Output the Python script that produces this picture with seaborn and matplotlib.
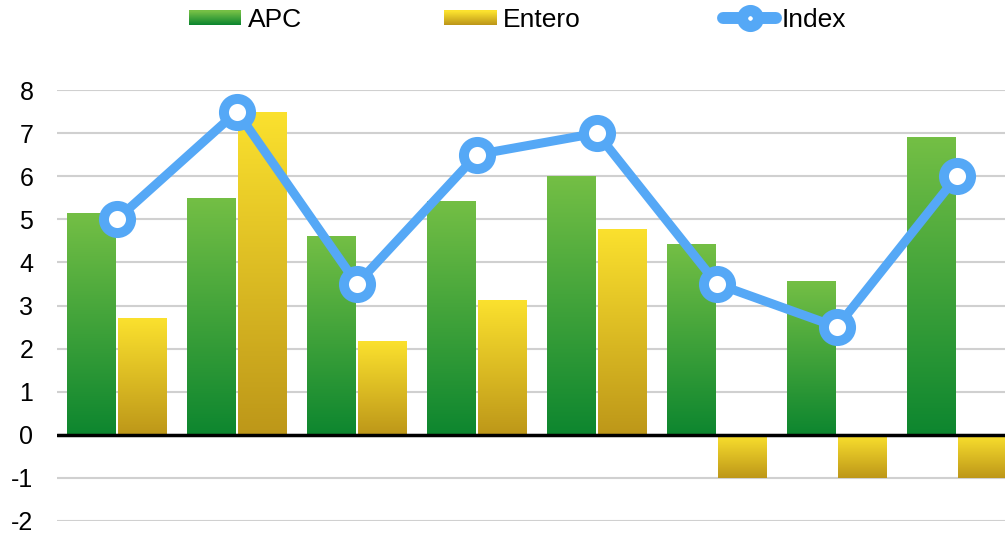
import numpy as np
import pandas as pd
import matplotlib
matplotlib.use("Agg")
import matplotlib.pyplot as plt
import seaborn as sns
from matplotlib.colors import LinearSegmentedColormap, to_rgb
from matplotlib.patches import Rectangle
from matplotlib.lines import Line2D
from matplotlib.legend_handler import HandlerBase

# data
groups = ["G1", "G2", "G3", "G4", "G5", "G6", "G7", "G8"]
apc = [5.15, 5.5, 4.62, 5.43, 6.0, 4.43, 3.57, 6.9]
entero = [2.7, 7.5, 2.18, 3.12, 4.78, -1, -1, -1]
index_vals = [5, 7.5, 3.5, 6.5, 7, 3.5, 2.5, 6]

# colours (bottom, top) of each gradient
green_grad = ("#0d862f", "#74bf45")
gold_grad = ("#bd9719", "#fbe12e")
line_col = "#55a8f6"

sns.set_style("white")
plt.rcParams["font.family"] = ["Liberation Sans", "DejaVu Sans"]
plt.rcParams["axes.unicode_minus"] = False
plt.rcParams["text.color"] = "black"
plt.rcParams["ytick.color"] = "black"

df = pd.DataFrame({
    "grp": groups * 2,
    "val": apc + entero,
    "serie": ["APC"] * len(groups) + ["Entero"] * len(groups),
})

fig = plt.figure(figsize=(10.05, 5.34), dpi=100)
ax = fig.add_axes([57 / 1005, 13 / 534, 960 / 1005, 431 / 534])

sns.barplot(data=df, x="grp", y="val", hue="serie", ax=ax, width=0.85, gap=0.04,
            palette=["#3a9a3a", "#e0c020"], legend=False, zorder=2)

# gradient fill on each bar
grad = np.linspace(0, 1, 256).reshape(-1, 1)
for cont, cols in zip(ax.containers, [green_grad, gold_grad]):
    cmap = LinearSegmentedColormap.from_list("g", list(cols))
    for p in cont.patches:
        x0, y0 = p.get_x(), p.get_y()
        w, h = p.get_width(), p.get_height()
        ylo, yhi = min(y0, y0 + h), max(y0, y0 + h)
        im = ax.imshow(grad, cmap=cmap, origin="lower", aspect="auto",
                       extent=[x0, x0 + w, ylo, yhi], zorder=2)
        im.set_clip_path(p)
        p.set_facecolor("none")
        p.set_edgecolor("none")

sns.lineplot(x=np.arange(len(groups)), y=index_vals, ax=ax, color=line_col,
             lw=6.5, marker="o", markersize=19.5, markerfacecolor="white",
             markeredgecolor=line_col, markeredgewidth=7.2, zorder=5)

ax.set_xlim(-0.5, 7.5)
ax.set_ylim(-2, 8)
ax.set_yticks(range(-2, 9))
ax.set_xticks([])
ax.set_xlabel("")
ax.set_ylabel("")
ax.grid(axis="y", color="#d0d0d0", lw=1.5, zorder=0)
ax.set_axisbelow(True)
ax.axhline(0, color="black", lw=2.5, zorder=4)
sns.despine(ax=ax, left=True, bottom=True)
ax.tick_params(axis="y", length=0, labelsize=18, pad=17, labelcolor="black")


class GradHandler(HandlerBase):
    def __init__(self, cols, n=14):
        super().__init__()
        self.cols = cols
        self.n = n

    def create_artists(self, legend, orig, xd, yd, width, height, fontsize, trans):
        c0, c1 = np.array(to_rgb(self.cols[0])), np.array(to_rgb(self.cols[1]))
        arts = []
        hh = height * 0.78
        y_start = -yd + (height - hh) / 2
        for i in range(self.n):
            f = i / (self.n - 1)
            r = Rectangle((-xd, y_start + hh * i / self.n), width, hh / self.n + 0.3,
                          facecolor=c0 + (c1 - c0) * f, edgecolor="none", transform=trans)
            arts.append(r)
        return arts


h_apc = Rectangle((0, 0), 1, 1)
h_ent = Rectangle((0, 0), 1, 1)
h_idx = Line2D([], [], color=line_col, lw=8.6, marker="o", markersize=11.5,
               markerfacecolor="white", markeredgecolor=line_col, markeredgewidth=8)
fig.legend([h_apc, h_ent, h_idx], ["APC", "Entero", "Index"], ncol=3,
           loc="center", bbox_to_anchor=(0.515, 0.962), frameon=False, fontsize=19,
           handlelength=2.0, handletextpad=0.23, columnspacing=5.4,
           handler_map={h_apc: GradHandler(green_grad), h_ent: GradHandler(gold_grad)})

fig.savefig("out.png", dpi=100)
